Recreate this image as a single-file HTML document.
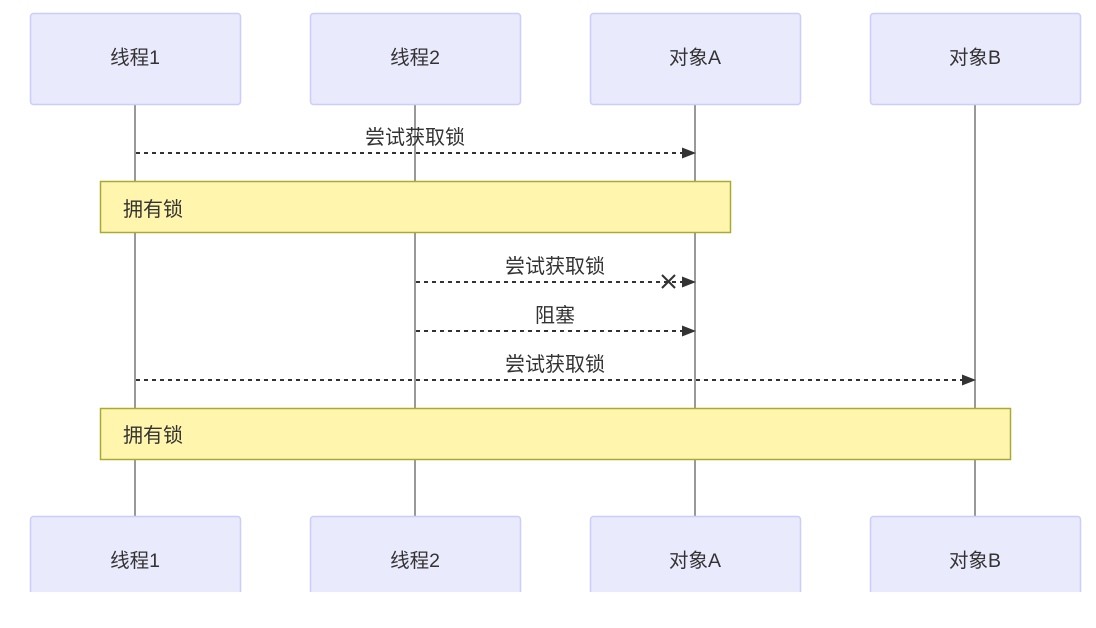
<!DOCTYPE html>
<html><head><meta charset="utf-8"><style>
html,body{margin:0;padding:0;background:#fff;width:1096px;height:628px;overflow:hidden}
text{font-family:"Liberation Sans","Noto Sans CJK SC",sans-serif;fill:#333}
</style></head><body>
<svg width="1096" height="628" viewBox="0 0 1096 628" xmlns="http://www.w3.org/2000/svg">
<defs>
<marker id="ar" markerWidth="14" markerHeight="11" refX="13" refY="5.5" orient="auto" markerUnits="userSpaceOnUse">
<path d="M0,0 L14,5.5 L0,11 z" fill="#333"/></marker>
</defs>
<g stroke="#999" stroke-width="2">
<line x1="135" y1="104" x2="135" y2="592"/>
<line x1="415" y1="104" x2="415" y2="592"/>
<line x1="695" y1="104" x2="695" y2="592"/>
<line x1="975" y1="104" x2="975" y2="592"/>
</g>
<g fill="#eaeafd" stroke="#ccccff" stroke-width="1.5">
<rect x="30.5" y="13.5" width="210" height="91" rx="3"/>
<rect x="310.5" y="13.5" width="210" height="91" rx="3"/>
<rect x="590.5" y="13.5" width="210" height="91" rx="3"/>
<rect x="870.5" y="13.5" width="210" height="91" rx="3"/>
<rect x="30.5" y="516.5" width="210" height="100" rx="3"/>
<rect x="310.5" y="516.5" width="210" height="100" rx="3"/>
<rect x="590.5" y="516.5" width="210" height="100" rx="3"/>
<rect x="870.5" y="516.5" width="210" height="100" rx="3"/>
</g>
<rect x="0" y="592" width="1096" height="36" fill="#fff"/>
<g font-size="19.5" text-anchor="middle">
<text x="135" y="64">线程1</text><text x="415" y="64">线程2</text>
<text x="695" y="64">对象A</text><text x="975" y="64">对象B</text>
<text x="135" y="567">线程1</text><text x="415" y="567">线程2</text>
<text x="695" y="567">对象A</text><text x="975" y="567">对象B</text>
</g>
<g stroke="#333" stroke-width="2" stroke-dasharray="4,4" fill="none">
<line x1="136" y1="153" x2="695" y2="153" marker-end="url(#ar)"/>
<line x1="416" y1="282" x2="695" y2="282" marker-end="url(#ar)"/>
<line x1="416" y1="331" x2="695" y2="331" marker-end="url(#ar)"/>
<line x1="136" y1="380" x2="975" y2="380" marker-end="url(#ar)"/>
</g>
<g stroke="#333" stroke-width="2">
<line x1="662" y1="275" x2="675" y2="288"/><line x1="675" y1="275" x2="662" y2="288"/>
</g>
<rect x="100.5" y="181.5" width="630" height="51" fill="#fff5ad" stroke="#aaaa33" stroke-width="1.5"/>
<rect x="100.5" y="408.5" width="910" height="51" fill="#fff5ad" stroke="#aaaa33" stroke-width="1.5"/>
<g font-size="20" text-anchor="middle">
<text x="415" y="144">尝试获取锁</text>
<text x="555" y="273">尝试获取锁</text>
<text x="555" y="322">阻塞</text>
<text x="555" y="371">尝试获取锁</text>
</g>
<g font-size="20">
<text x="123" y="216">拥有锁</text>
<text x="123" y="442">拥有锁</text>
</g>
</svg>
</body></html>
